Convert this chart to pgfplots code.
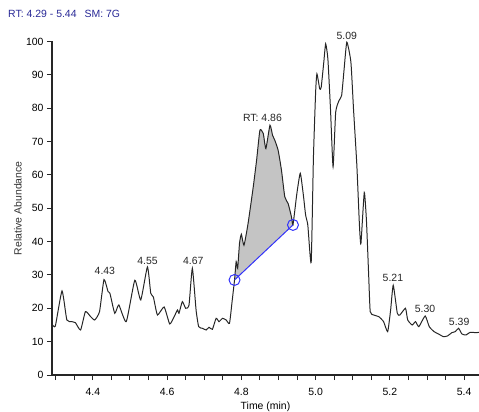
\documentclass[border=0pt]{standalone}
\usepackage{pgfplots}
\pgfplotsset{compat=1.18}
\usepackage{fontspec}
\setmainfont{Liberation Sans}
\definecolor{rtblue}{RGB}{40,40,150}
\definecolor{intblue}{RGB}{50,50,250}
\definecolor{fillgray}{RGB}{196,196,196}
\begin{document}
\begin{tikzpicture}
\useasboundingbox (-52bp,-37bp) rectangle (427bp,375bp);
\begin{axis}[
  at={(0,0)}, anchor=south west,
  scale only axis, width=427bp, height=333.5bp,
  xmin=4.29, xmax=5.44, ymin=0, ymax=100,
  axis lines=left, axis line style={-, line width=1.1pt, black!85},
  clip=false,
  xtick={4.4,4.6,4.8,5.0,5.2,5.4},
  minor xtick={4.30,4.35,4.45,4.50,4.55,4.65,4.70,4.75,4.85,4.90,4.95,5.05,5.10,5.15,5.25,5.30,5.35},
  ytick={0,10,...,100},
  tick align=outside, tickpos=left,
  major tick length=5bp, minor tick length=5bp,
  every tick/.style={line width=1pt, black!85},
  every minor tick/.style={line width=1pt, black!85},
  xticklabel style={/pgf/number format/.cd, fixed, fixed zerofill, precision=1, /tikz/.cd, font=\fontsize{10.5}{12}\selectfont, yshift=-5bp},
  yticklabel style={font=\fontsize{10.5}{12}\selectfont},
  /pgf/number format/assume math mode=true,
  xlabel={Time (min)},
  ylabel={Relative Abundance},
  xlabel style={at={(axis description cs:0.5,-0.096)}, anchor=center, font=\fontsize{10.5}{12}\selectfont},
  ylabel style={at={(axis description cs:-0.0796,0.5)}, anchor=center, font=\fontsize{10.5}{12}\selectfont, text=black!80},
]
\addplot[fill=fillgray, draw=none, smooth, tension=0.3] coordinates {
(4.7816,28.5) (4.786,34.0) (4.790,32.0) (4.795,39.5)
(4.800,42.2) (4.807,38.9) (4.818,45.4) (4.832,56.4) (4.841,64.4) (4.850,73.4)
(4.859,72.4) (4.866,67.9) (4.877,74.9) (4.884,71.9) (4.890,70.4) (4.899,67.4)
(4.908,61.4) (4.917,53.4) (4.926,51.4) (4.935,47.4) (4.939,45.0)
} -- cycle;
\addplot[smooth, tension=0.3, line width=1pt, black!85] coordinates {
(4.290,15.3) (4.299,14.7) (4.317,25.2) (4.330,16.5) (4.344,16.0) (4.353,15.7)
(4.367,13.5) (4.380,19.0) (4.394,17.5) (4.405,16.5) (4.418,19.0) (4.430,28.6)
(4.441,25.0) (4.446,24.5) (4.459,18.5) (4.470,21.0) (4.490,16.0) (4.513,28.4)
(4.529,22.5) (4.547,32.4) (4.556,24.5) (4.563,23.4) (4.574,18.0) (4.592,20.4)
(4.607,15.3) (4.619,17.5) (4.628,19.5) (4.632,18.5) (4.641,22.0) (4.650,20.0)
(4.659,21.0) (4.668,32.0) (4.678,19.5) (4.685,14.5) (4.695,14.0) (4.705,13.5)
(4.713,14.3) (4.722,13.7) (4.732,17.0) (4.740,16.0) (4.749,17.0) (4.759,16.5)
(4.768,15.5) (4.775,22.0) (4.7816,28.5) (4.786,34.0) (4.790,32.0) (4.795,39.5)
(4.800,42.2) (4.807,38.9) (4.818,45.4) (4.832,56.4) (4.841,64.4) (4.850,73.4)
(4.859,72.4) (4.866,67.9) (4.877,74.9) (4.884,71.9) (4.890,70.4) (4.899,67.4)
(4.908,61.4) (4.917,53.4) (4.926,51.4) (4.935,47.4) (4.939,45.0) (4.949,54.0)
(4.9586,60.5) (4.967,53.9) (4.973,48.0) (4.979,44.9) (4.988,33.7) (4.994,64.9)
(5.000,84.8) (5.0035,90.3) (5.011,85.8) (5.015,86.3) (5.022,93.8) (5.027,99.3)
(5.033,94.8) (5.040,79.8) (5.047,62.4) (5.054,78.8) (5.063,82.3) (5.070,83.8)
(5.076,90.8) (5.084,99.8) (5.095,93.8) (5.102,79.8) (5.111,62.9) (5.118,44.9)
(5.122,39.4) (5.131,54.7) (5.137,46.0) (5.143,29.5) (5.147,19.0) (5.156,18.0)
(5.170,17.5) (5.183,16.0) (5.194,13.0) (5.202,19.5) (5.209,26.9) (5.220,18.5)
(5.227,18.0) (5.242,20.0) (5.248,16.5) (5.260,15.0) (5.269,16.0) (5.278,14.5)
(5.295,17.7) (5.306,14.5) (5.319,13.0) (5.331,12.3) (5.344,11.5) (5.355,11.7)
(5.367,12.7) (5.376,13.0) (5.385,14.0) (5.394,12.3) (5.405,12.0) (5.416,12.8)
(5.432,12.7) (5.440,12.8)
};
\addplot[intblue, line width=1pt] coordinates {(4.7816,28.5) (4.939,45.0)};
\addplot[only marks, mark=o, mark size=5.5bp, intblue, mark options={line width=1pt}] coordinates {(4.7816,28.5) (4.939,45.0)};
\begin{scope}[every node/.style={inner sep=0pt, anchor=base, font=\fontsize{10.5}{12}\selectfont, text=black!85}]
\node at (axis cs:4.4324,30.0) {4.43};
\node at (axis cs:4.5473,33.0) {4.55};
\node at (axis cs:4.6703,33.0) {4.67};
\node at (axis cs:4.8568,75.9) {RT: 4.86};
\node at (axis cs:5.0838,100.7) {5.09};
\node at (axis cs:5.2081,27.9) {5.21};
\node at (axis cs:5.2946,18.6) {5.30};
\node at (axis cs:5.3865,14.7) {5.39};
\end{scope}
\end{axis}
\node[anchor=base west, inner sep=0pt, text=rtblue, font=\fontsize{10.5}{12}\selectfont] at (-44bp,357bp) {RT: 4.29 - 5.44\hspace{8bp}SM: 7G};
\end{tikzpicture}
\end{document}
